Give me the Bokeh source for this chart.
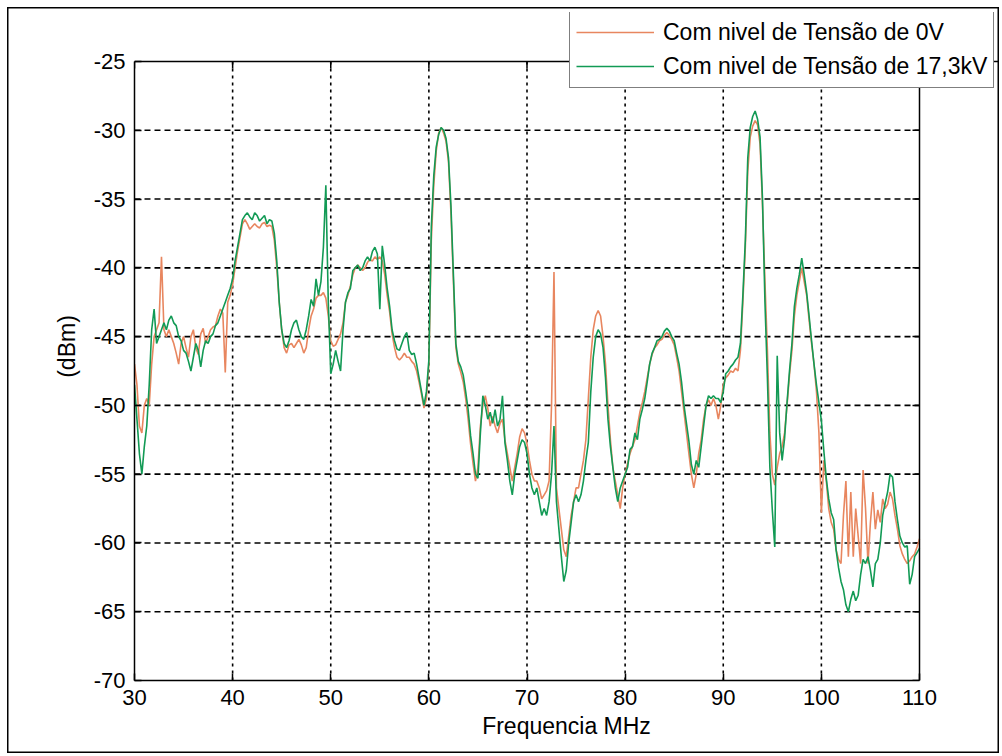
from bokeh.plotting import figure
from bokeh.models import Range1d, Legend, LegendItem, FixedTicker, Span
from bokeh.embed import file_html
from bokeh.resources import INLINE

# sampling axis (MHz), 0.25 MHz step
freq = [round(30 + 0.25 * i, 2) for i in range(321)]

# Com nivel de Tensão de 17,3kV (green)
green = [
    -48.5, -51, -53.5, -55,      # 30
    -53, -51.5, -48.5, -44.5,    # 31
    -43, -45.5, -45, -44.5,      # 32
    -44, -44.5, -43.8, -43.5,    # 33
    -44, -44.2, -45, -45.3,      # 34
    -46, -46.2, -46.8, -47.5,    # 35
    -46.5, -45.5, -46, -47.2,    # 36
    -46, -45.3, -45.5, -45,      # 37
    -44.8, -44.2, -44, -43.5,    # 38
    -43, -42.5, -42, -41.5,      # 39
    -40.8, -39.5, -38.5, -37.5,  # 40
    -36.5, -36.2, -36, -36.3,    # 41
    -36.5, -36, -36.2, -36.6,    # 42
    -36.4, -36.2, -36.8, -36.5,  # 43
    -36.6, -37.5, -39.5, -42.5,  # 44
    -44.5, -45.5, -45.8, -45.3,  # 45
    -44.5, -44, -43.8, -44.5,    # 46
    -45, -45.2, -44.5, -43.5,    # 47
    -42.3, -42.8, -40.8, -42,    # 48
    -41, -38.5, -34, -42.5,      # 49
    -47.7, -47, -46, -46.8,      # 50
    -47.5, -44.5, -42.5, -41.8,  # 51
    -41.5, -40.2, -40, -39.8,    # 52
    -40.2, -40, -39.5, -39.2,    # 53
    -39.5, -38.8, -38.5, -39,    # 54
    -43, -38.4, -39.8, -41.5,    # 55
    -42.8, -44.5, -45.3, -45.9,  # 56
    -46, -45.5, -45, -44.7,      # 57
    -46, -46.3, -46.2, -47,      # 58
    -48, -49, -50, -49,          # 59
    -46.7, -37, -33.3, -31.2,    # 60
    -30.3, -29.8, -30, -30.6,    # 61
    -32, -35.5, -40.5, -45.5,    # 62
    -46.8, -47.2, -47.8, -49,    # 63
    -50.3, -52.2, -53.5, -55,    # 64
    -55.3, -52, -49.3, -50,      # 65
    -51, -50.5, -51.3, -50.3,    # 66
    -51.5, -51, -49.3, -52.7,    # 67
    -54, -55.5, -56.5, -55,      # 68
    -54, -53, -52.5, -52.7,      # 69
    -53.5, -55, -56, -56.5,      # 70
    -56, -57, -58, -57.5,        # 71
    -58, -57, -55, -51.5,        # 72
    -57, -59, -61, -62.8,        # 73
    -62, -60, -58.5, -57,        # 74
    -56.5, -57, -56.5, -55.5,    # 75
    -54, -52.7, -49, -46.5,      # 76
    -45, -44.5, -44.8, -45.8,    # 77
    -48, -51, -53, -54.5,        # 78
    -56, -57, -56, -55.5,        # 79
    -55, -54.5, -53.2, -53,      # 80
    -52, -52.5, -51, -50.3,      # 81
    -49.5, -48.3, -47, -46.2,    # 82
    -45.8, -45.3, -45.2, -45,    # 83
    -44.6, -44.4, -44.6, -45,    # 84
    -45.3, -46.2, -47, -48.3,    # 85
    -50, -51.3, -52.6, -54.3,    # 86
    -55, -54, -54.5, -53,        # 87
    -51.5, -50, -49.3, -49.5,    # 88
    -49.3, -49.5, -49.5, -49.8,  # 89
    -49, -47.7, -47.5, -47.2,    # 90
    -47, -46.7, -46.5, -45.5,    # 91
    -42, -38, -32, -29.8,        # 92
    -29, -28.6, -29.2, -30.5,    # 93
    -35, -42.5, -48, -54.5,      # 94
    -57.6, -60.3, -46.4, -52,    # 95
    -54, -52.4, -49.8, -47.5,    # 96
    -45.5, -42.8, -41.5, -40.5,  # 97
    -39.3, -40.5, -41.8, -43.5,  # 98
    -45.3, -47, -48.5, -49.8,    # 99
    -51.1, -53.3, -55.3, -56.8,  # 100
    -57.8, -58.3, -60.5, -61.8,  # 101
    -62.8, -63.4, -64.5, -65,    # 102
    -64.1, -63.5, -64.2, -63.8,  # 103
    -62.3, -61.2, -61.5, -61,    # 104
    -62, -63.2, -61.5, -61.2,    # 105
    -60, -58, -57.1, -56.3,      # 106
    -55, -55.2, -57, -58.3,      # 107
    -59.5, -60, -60.3, -60.2,    # 108
    -63, -62.3, -61, -60.7,      # 109
    -60.4,                       # 110
]

# Com nivel de Tensão de 0V (orange)
orange = [
    -47, -48.5, -51.5, -52,      # 30
    -50, -49.5, -50, -47,        # 31
    -45, -44.5, -44, -39.2,      # 32
    -44.5, -45, -44.5, -45,      # 33
    -45.5, -46.2, -47, -45.5,    # 34
    -45, -45.8, -46.5, -45,      # 35
    -44.5, -45.8, -46.3, -44.8,  # 36
    -44.4, -45.5, -45, -44.5,    # 37
    -44.3, -44.2, -43.5, -43,    # 38
    -43.3, -47.6, -42.5, -42,    # 39
    -41.2, -40, -38.8, -37.8,    # 40
    -36.8, -36.5, -36.8, -37.2,  # 41
    -37, -36.8, -37, -37.1,      # 42
    -36.8, -36.7, -37, -36.9,    # 43
    -37, -38, -40, -42.5,        # 44
    -44.5, -45.8, -46.2, -45.6,  # 45
    -45.5, -45.8, -45.5, -45.2,  # 46
    -45.6, -46.2, -45.8, -44.5,  # 47
    -43.5, -43, -42.2, -42,      # 48
    -42, -41.8, -42.2, -43.5,    # 49
    -45.3, -45.7, -45.6, -45.2,  # 50
    -44.8, -44, -42.5, -42,      # 51
    -41.3, -40.5, -40, -39.8,    # 52
    -40, -40.2, -40, -39.6,      # 53
    -39.4, -39.5, -39.2, -39.4,  # 54
    -39.2, -39.5, -40.5, -42,    # 55
    -43.2, -44.8, -45.8, -46.5,  # 56
    -46.7, -46.5, -46.2, -46.5,  # 57
    -46.5, -46.8, -47, -47.5,    # 58
    -48.3, -49.2, -50.2, -49.5,  # 59
    -47, -38, -34, -31.5,        # 60
    -30.2, -29.8, -30.2, -30.8,  # 61
    -32.3, -36, -41, -45.8,      # 62
    -47, -47.6, -48.3, -49.5,    # 63
    -51, -52.8, -54.2, -55.5,    # 64
    -54.5, -51.5, -50, -49.3,    # 65
    -50.2, -51.5, -50.8, -51.5,  # 66
    -52, -51.3, -51, -52.5,      # 67
    -53.5, -54.5, -55.5, -54.5,  # 68
    -53.5, -52.3, -51.7, -52,    # 69
    -52.8, -54, -55, -55.5,      # 70
    -55.5, -56, -56.8, -56.5,    # 71
    -56.2, -55.5, -50, -40.3,    # 72
    -56, -57.5, -59, -60.5,      # 73
    -61, -59.5, -58, -57,        # 74
    -56, -56, -55, -54,          # 75
    -52.5, -49.5, -46.5, -44.5,  # 76
    -43.5, -43.1, -43.5, -45,    # 77
    -47, -50, -52.5, -54.5,      # 78
    -55.5, -56.5, -57.5, -56,    # 79
    -55, -54.2, -53.5, -53,      # 80
    -52.5, -51.5, -50.5, -49.8,  # 81
    -49, -48, -47, -46.3,        # 82
    -45.8, -45.6, -45.3, -45.2,  # 83
    -44.9, -44.7, -44.9, -45.2,  # 84
    -45.6, -46.5, -47.5, -49,    # 85
    -50.5, -52, -53.5, -55,      # 86
    -56, -55, -53.5, -52.5,      # 87
    -51, -50, -49.6, -50,        # 88
    -49.5, -50, -51, -50,        # 89
    -48.5, -48, -47.8, -47.5,    # 90
    -47.6, -47.3, -47.5, -46,    # 91
    -42.5, -38.5, -33, -30.5,    # 92
    -29.7, -29.3, -29.6, -31,    # 93
    -35.5, -41, -46, -52,        # 94
    -55, -55.8, -54.5, -53.5,    # 95
    -53, -52, -50, -47.8,        # 96
    -46, -43.5, -42, -41,        # 97
    -40, -41, -42, -43.8,        # 98
    -45.5, -47, -49, -52,        # 99
    -57.8, -54, -55.5, -57.5,    # 100
    -58.5, -59, -60.5, -61.2,    # 101
    -61.5, -58, -55.5, -61,      # 102
    -56.3, -61, -57.5, -59.5,    # 103
    -61.5, -54.7, -57.5, -61.5,  # 104
    -58.5, -56.3, -59, -57.6,    # 105
    -58.5, -56.8, -57.5, -57.2,  # 106
    -56.3, -56.8, -58, -59,      # 107
    -60.2, -60.8, -61.2, -61.5,  # 108
    -61.3, -61, -60.8, -60.3,    # 109
    -59.7,                       # 110
]

xticks = [30, 40, 50, 60, 70, 80, 90, 100, 110]
yticks = [-70, -65, -60, -55, -50, -45, -40, -35, -30, -25]
series_labels = ["Com nivel de Tensão de 0V", "Com nivel de Tensão de 17,3kV"]
series_colors = ["#E8865F", "#129A55"]

FONT = "Liberation Sans"

# ---- layout (pixels) ----
W, H = 1002, 756
AX_L, AX_R, AX_T, AX_B = 134, 919, 61, 680          # the visible axes box
FR_R, FR_T = 998, 12                                 # frame extended to hold the legend
px_x = (AX_R - AX_L) / (xticks[-1] - xticks[0])
px_y = (AX_B - AX_T) / (yticks[-1] - yticks[0])
x_end = xticks[0] + (FR_R - AX_L) / px_x
y_end = yticks[0] + (AX_B - FR_T) / px_y
TICK = 7

p = figure(width=W, height=H, x_range=Range1d(xticks[0], x_end), y_range=Range1d(yticks[0], y_end),
           output_backend="svg", toolbar_location=None,
           min_border_left=AX_L, min_border_right=W - FR_R, min_border_top=FR_T, min_border_bottom=H - AX_B)
# outer picture frame (drawn by CSS behind a transparent canvas)
p.styles = {"background-color": "white",
            "box-shadow": "inset 2px 2px 0 5px white, inset 2px 2px 0 6.5px black"}
p.outline_line_color = None
p.background_fill_color = None
p.border_fill_color = None
p.grid.visible = False

for ax in (p.xaxis[0], p.yaxis[0]):
    ax.axis_line_color = "black"
    ax.axis_line_width = 1.5
    ax.major_tick_in = TICK
    ax.major_tick_out = 0
    ax.minor_tick_line_color = None
    ax.major_tick_line_color = "black"
    ax.major_tick_line_width = 1.5
    ax.major_label_text_font = FONT
    ax.major_label_text_font_size = "22px"
    ax.major_label_text_color = "black"
    ax.axis_label_text_font = FONT
    ax.axis_label_text_font_size = "23px"
    ax.axis_label_text_font_style = "normal"
    ax.axis_label_text_color = "black"

p.xaxis.bounds = (xticks[0], xticks[-1])
p.yaxis.bounds = (yticks[0], yticks[-1])
p.xaxis.ticker = FixedTicker(ticks=xticks)
p.yaxis.ticker = FixedTicker(ticks=yticks)
p.xaxis.major_label_overrides = {t: str(t) for t in xticks}
p.yaxis.major_label_overrides = {t: str(t) for t in yticks}
p.xaxis.major_label_standoff = 9
p.yaxis.major_label_standoff = 9
p.xaxis.axis_label = "Frequencia MHz"
p.yaxis.axis_label = "(dBm)"
p.xaxis.axis_label_standoff = 5
p.yaxis.axis_label_standoff = 11

# dotted grid restricted to the axes box
gx = xticks[1:-1]
gy = yticks[1:-1]
p.segment(x0=gx, y0=[yticks[0]] * len(gx), x1=gx, y1=[yticks[-1]] * len(gx),
          line_color="black", line_width=1.6, line_dash="3 4")
p.segment(x0=[xticks[0]] * len(gy), y0=gy, x1=[xticks[-1]] * len(gy), y1=gy,
          line_color="black", line_width=1.6, line_dash="6 4")

# inward ticks on top and right edges of the box
p.segment(x0=xticks, y0=[yticks[-1]] * len(xticks), x1=xticks, y1=[yticks[-1] - TICK / px_y] * len(xticks),
          line_color="black", line_width=1.5)
p.segment(x0=[xticks[-1]] * len(yticks), y0=yticks, x1=[xticks[-1] - TICK / px_x] * len(yticks), y1=yticks,
          line_color="black", line_width=1.5)

r_o = p.line(freq, orange, line_color=series_colors[0], line_width=1.6)
r_g = p.line(freq, green, line_color=series_colors[1], line_width=1.6)

# top and right edges of the axes box
p.add_layout(Span(location=yticks[-1], dimension="width", line_color="black", line_width=1.5))
p.add_layout(Span(location=xticks[-1], dimension="height", line_color="black", line_width=1.5))

legend = Legend(items=[LegendItem(label=series_labels[0], renderers=[r_o]),
                       LegendItem(label=series_labels[1], renderers=[r_g])],
                location=(569 - AX_L, AX_B - 88))
legend.border_line_color = "black"
legend.border_line_width = 1.5
legend.background_fill_color = "white"
legend.background_fill_alpha = 1.0
legend.glyph_width = 78
legend.glyph_height = 30
legend.label_height = 30
legend.spacing = 4
legend.padding = 6
legend.margin = 0
legend.label_standoff = 9
legend.label_text_font = FONT
legend.label_text_font_size = "23px"
legend.label_text_color = "black"
p.add_layout(legend)

open("out.html", "w").write(file_html(p, INLINE))
